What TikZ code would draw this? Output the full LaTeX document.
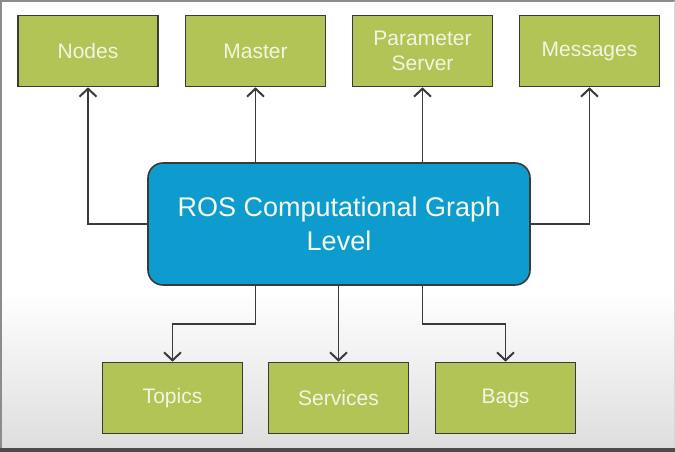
\documentclass[tikz,border=0pt]{standalone}
\usepackage{fontspec}
\setmainfont{Liberation Sans}
\usetikzlibrary{arrows.meta}
\definecolor{boxgreen}{RGB}{178,196,85}
\definecolor{rosblue}{RGB}{14,156,206}
\definecolor{edgegray}{RGB}{58,58,58}
\definecolor{txtlight}{RGB}{240,246,226}
\begin{document}
\begin{tikzpicture}[x=1pt,y=-1pt,
  gbox/.style={draw=edgegray,line width=1.6pt,fill=boxgreen,minimum width=140pt,minimum height=71pt,
    text=txtlight,font=\fontsize{21}{25}\selectfont,align=center,inner sep=0pt},
  rosbox/.style={draw=edgegray,line width=1.6pt,fill=rosblue,rounded corners=15pt,minimum width=382pt,
    minimum height=122pt,text=txtlight!60!white,font=\fontsize{27}{34}\selectfont,align=center,inner sep=0pt},
  arr/.style={draw=edgegray,line width=1.6pt,-{Straight Barb[length=8pt,width=17pt,line width=2pt]}},
  ln/.style={draw=edgegray,line width=1.6pt}]
\useasboundingbox (0,0) rectangle (675,452);
\fill[white] (0,0) rectangle (675,452);
\shade[top color=white,bottom color=black!13] (0,290) rectangle (675,448);
\draw[black!45,line width=1.5pt] (1,452) -- (1,1) -- (675,1);
\draw[black!15,line width=1pt] (674,1) -- (674,448);
\fill[black!70] (0,448) rectangle (675,452);
\node[gbox] (nodes) at (88,51) {Nodes};
\node[gbox] (master) at (255.5,51) {Master};
\node[gbox] (param) at (422.5,51) {Parameter\\Server};
\node[gbox] (msgs) at (589.5,51) {Messages};
\node[rosbox] (ros) at (339,224) {ROS Computational Graph\\Level};
\node[gbox] (topics) at (172.5,398) {Topics};
\node[gbox] (services) at (338.5,398) {Services};
\node[gbox] (bags) at (505.5,398) {Bags};
\draw[arr] (ros.west) -| (nodes.south);
\draw[arr] (ros.north -| master.south) -- (master.south);
\draw[arr] (ros.north -| param.south) -- (param.south);
\draw[arr] (ros.east) -| (msgs.south);
\draw[arr] (ros.south -| master.south) -- ++(0,38) -| (topics.north);
\draw[arr] (ros.south -| services.north) -- (services.north);
\draw[arr] (ros.south -| param.south) -- ++(0,38) -| (bags.north);
\end{tikzpicture}
\end{document}
